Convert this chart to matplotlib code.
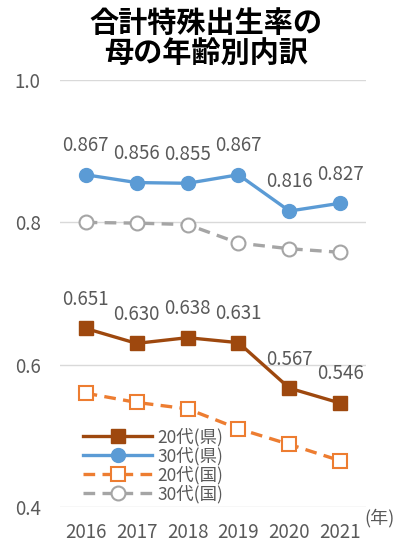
import matplotlib.pyplot as plt

plt.rcParams['font.family'] = ['Noto Sans CJK JP', 'DejaVu Sans']

years = ['2016', '2017', '2018', '2019', '2020', '2021']
pref_20s = [0.651, 0.630, 0.638, 0.631, 0.567, 0.546]
pref_30s = [0.867, 0.856, 0.855, 0.867, 0.816, 0.827]
nat_20s = [0.560, 0.547, 0.538, 0.510, 0.488, 0.465]
nat_30s = [0.800, 0.799, 0.797, 0.771, 0.763, 0.758]
yticks = [0.4, 0.6, 0.8, 1.0]

txt = '#595959'
fig = plt.figure(figsize=(4.12, 5.45), dpi=100)
ax = fig.add_axes([0.146, 0.0697, 0.742, 0.7833])
x = list(range(len(years)))

ax.plot(x, pref_20s, color='#9E480E', lw=2.4, marker='s', ms=9.5,
        label='20代(県)', zorder=5)
ax.plot(x, pref_30s, color='#5B9BD5', lw=2.4, marker='o', ms=10,
        label='30代(県)', zorder=5)
ax.plot(x, nat_20s, color='#ED7D31', lw=2.4, ls=(0, (3.5, 2.2)), marker='s',
        ms=9.5, mfc='white', mew=1.5, label='20代(国)', zorder=4)
ax.plot(x, nat_30s, color='#A5A5A5', lw=2.4, ls=(0, (3.5, 2.2)), marker='o',
        ms=10, mfc='white', mew=1.5, label='30代(国)', zorder=4)

for xi, v in zip(x, pref_20s):
    ax.annotate(f'{v:.3f}', (xi, v), xytext=(0, 21), textcoords='offset points',
                ha='center', va='center', fontsize=13.5, color=txt)
for xi, v in zip(x, pref_30s):
    ax.annotate(f'{v:.3f}', (xi, v), xytext=(0, 21), textcoords='offset points',
                ha='center', va='center', fontsize=13.5, color=txt)

ax.set_xlim(-0.5, 5.5)
ax.set_ylim(0.4, 1.0)
ax.set_xticks(x)
ax.set_xticklabels(years)
ax.set_yticks(yticks)
ax.set_yticklabels([f'{t:.1f}' for t in yticks])
ax.tick_params(axis='both', length=0, labelsize=13.5, labelcolor=txt)
ax.tick_params(axis='y', pad=14)
ax.tick_params(axis='x', pad=11)
ax.grid(axis='y', color='#D9D9D9', lw=1)
ax.set_axisbelow(True)
for s in ax.spines.values():
    s.set_visible(False)

leg = ax.legend(loc='lower left', bbox_to_anchor=(0.04, -0.015), frameon=False,
                fontsize=12.5, handlelength=4.0, labelspacing=0.02,
                handletextpad=0.3, borderaxespad=0.2)
for t in leg.get_texts():
    t.set_color(txt)

fig.text(0.5, 0.958, '合計特殊出生率の', ha='center', va='center',
         fontsize=21, fontweight='bold')
fig.text(0.5, 0.903, '母の年齢別内訳', ha='center', va='center',
         fontsize=21, fontweight='bold')
fig.text(0.885, 0.05, '(年)', ha='left', va='center', fontsize=13, color=txt)

fig.savefig('out.png', dpi=100)
